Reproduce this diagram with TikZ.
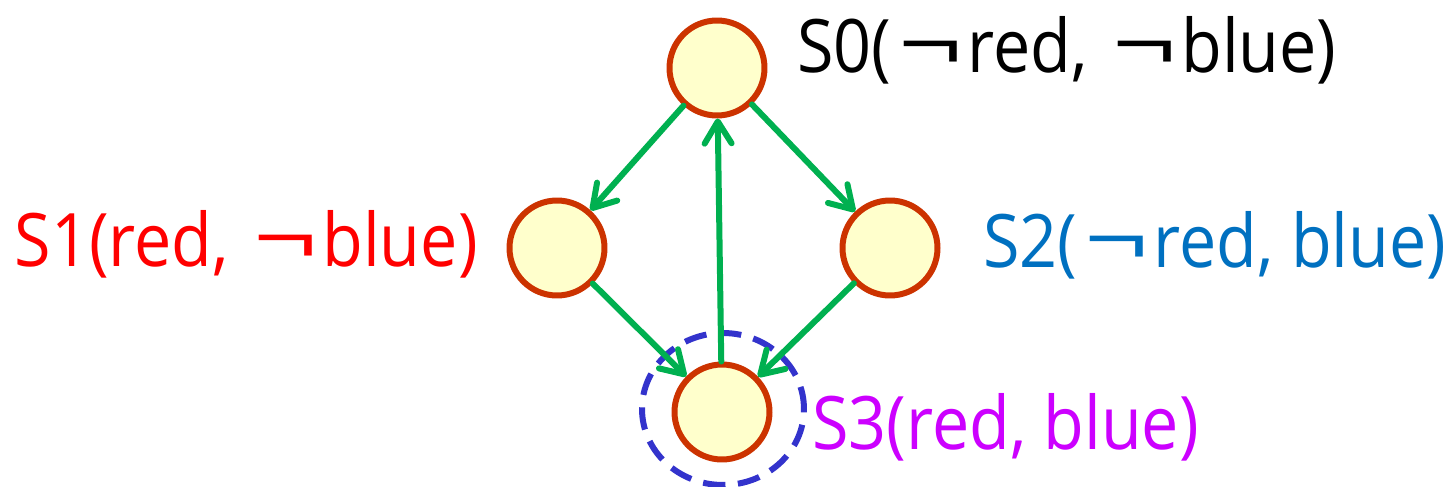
\documentclass[tikz,border=0pt]{standalone}
\usepackage{fontspec}
\usepackage{graphicx}
\setmainfont{Open Sans}[FakeStretch=0.9]
\usetikzlibrary{arrows.meta}
\definecolor{stateedge}{HTML}{CC3300}
\definecolor{statefill}{HTML}{FFFFCC}
\definecolor{transgreen}{HTML}{00B050}
\definecolor{ringblue}{HTML}{3333CC}
\definecolor{sonered}{HTML}{FF0000}
\definecolor{stwoblue}{HTML}{0070C0}
\definecolor{sthreepurple}{HTML}{CC00FF}
\newcommand{\nneg}{\kern0.1em\scalebox{1.7}[1.1]{¬}\kern0.06em}

\begin{document}
\begin{tikzpicture}[x=0.02cm, y=-0.02cm, >={Straight Barb[length=0.44cm,width=0.54cm,round]},
  state/.style={circle, draw=stateedge, fill=statefill, line width=0.12cm, minimum size=1.9cm, inner sep=0pt},
  trans/.style={->, draw=transgreen, line width=0.12cm, line cap=round},
  lbl/.style={font=\fontsize{42}{50}\selectfont, inner sep=0pt}]
  \useasboundingbox (0,0) rectangle (1448,487);
  % states
  \node[state] (s0) at (717,68) {};
  \node[state] (s1) at (557,248) {};
  \node[state] (s2) at (890,248) {};
  \node[state] (s3) at (722,412) {};
  \draw[ringblue, line width=0.12cm, dash pattern=on 0.45cm off 0.25cm] (723,409) ellipse [x radius=1.62cm, y radius=1.52cm];
  % labels
  \node[lbl, anchor=base west] (l0) at (797,72) {S0(\nneg red, \nneg blue)};
  \node[lbl, anchor=base east, text=sonered] (l1) at (478,266) {S1(red, \nneg blue)};
  \node[lbl, anchor=base west, text=stwoblue] (l2) at (983,267) {S2(\nneg red, blue)};
  \node[lbl, anchor=base west, text=sthreepurple] (l3) at (812,449) {S3(red, blue)};
  % transitions
  \draw[trans] (s0) -- (s1);
  \draw[trans] (s0) -- (s2);
  \draw[trans] (s1) -- (s3);
  \draw[trans] (s2) -- (s3);
  \draw[trans] (s3) -- (s0);
\end{tikzpicture}
\end{document}
